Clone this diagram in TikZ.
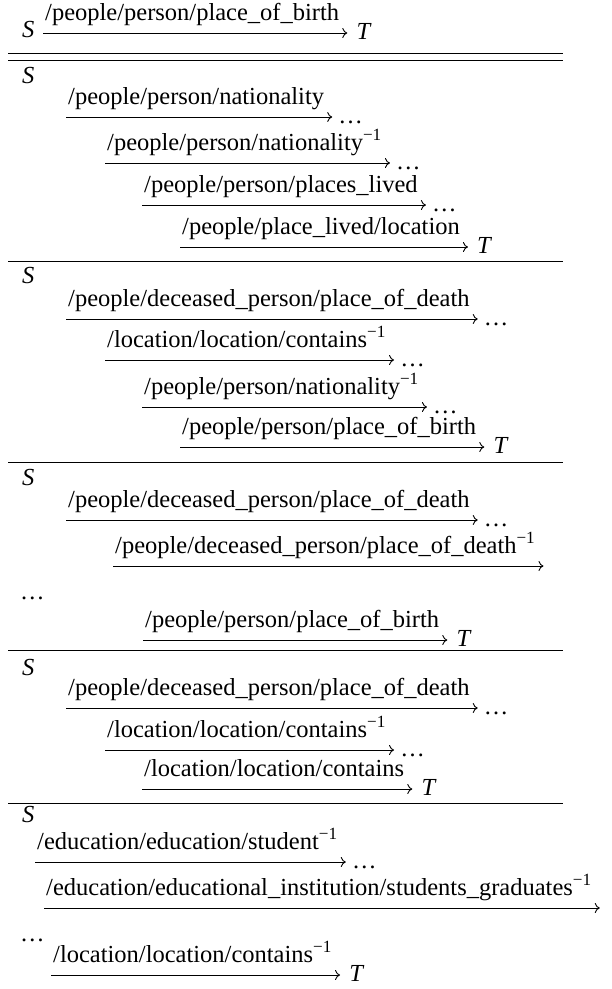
\documentclass[tikz,border=0pt]{standalone}
\usepackage{fontspec}
\setmainfont{Liberation Serif}
\usetikzlibrary{arrows.meta,positioning}

\newcommand{\invrel}{\textsuperscript{−1}}
% label above a relation arrow: name, arrow start x, arrow y, text
\newcommand{\relarrow}[4]{%
  \node[lbl] (#1) at (#2+2,#3-13) {#4};
  \coordinate (#1s) at ([xshift=-2pt,yshift=-13pt]#1.base west);
  \coordinate (#1e) at ([xshift=8pt,yshift=-13pt]#1.base east);
  \draw[rel] (#1s) -- (#1e);}

\tikzset{
  rel/.style={line width=0.9pt, -{Computer Modern Rightarrow[length=5pt,width=10pt]}},
  lbl/.style={anchor=base west, inner sep=0pt, font=\fontsize{24.5}{28}\selectfont},
  ent/.style={anchor=base west, inner sep=0pt, font=\fontsize{24.5}{28}\selectfont\itshape},
  rule/.style={line width=1pt},
}

\begin{document}
\begin{tikzpicture}[x=1pt,y=-1pt]
    \useasboundingbox (0,0) rectangle (612,989);

    % query relation
    \node[ent] (s0) at (22,37) {S};
    \relarrow{r0}{43}{33}{/people/person/place\_of\_birth}
    \node[ent] (t0) at ([xshift=9pt,yshift=-6pt]r0e) {T};

    % table rules
    \draw[rule] (8,53) -- (563,53);
    \foreach \y in {60,261,462,650,803}
        \draw[rule] (8,\y) -- (563,\y);

    % path 1
    \node[ent] (s1) at (22,83) {S};
    \relarrow{r11}{66}{117}{/people/person/nationality}
    \node[lbl] (d11) at ([xshift=6pt,yshift=-6pt]r11e) {…};
    \relarrow{r12}{105}{163}{/people/person/nationality\invrel}
    \node[lbl] (d12) at ([xshift=6pt,yshift=-6pt]r12e) {…};
    \relarrow{r13}{142}{205}{/people/person/places\_lived}
    \node[lbl] (d13) at ([xshift=6pt,yshift=-6pt]r13e) {…};
    \relarrow{r14}{180}{247}{/people/place\_lived/location}
    \node[ent] (t1) at ([xshift=9pt,yshift=-6pt]r14e) {T};

    % path 2
    \node[ent] (s2) at (22,283) {S};
    \relarrow{r21}{66}{319}{/people/deceased\_person/place\_of\_death}
    \node[lbl] (d21) at ([xshift=6pt,yshift=-6pt]r21e) {…};
    \relarrow{r22}{105}{360}{/location/location/contains\invrel}
    \node[lbl] (d22) at ([xshift=6pt,yshift=-6pt]r22e) {…};
    \relarrow{r23}{142}{407}{/people/person/nationality\invrel}
    \node[lbl] (d23) at ([xshift=6pt,yshift=-6pt]r23e) {…};
    \relarrow{r24}{180}{447}{/people/person/place\_of\_birth}
    \node[ent] (t2) at ([xshift=9pt,yshift=-6pt]r24e) {T};

    % path 3
    \node[ent] (s3) at (22,485) {S};
    \relarrow{r31}{66}{520}{/people/deceased\_person/place\_of\_death}
    \node[lbl] (d31) at ([xshift=6pt,yshift=-6pt]r31e) {…};
    \relarrow{r32}{113}{566}{/people/deceased\_person/place\_of\_death\invrel}
    \node[lbl] (d32) at (20,599) {…};
    \relarrow{r33}{143}{640}{/people/person/place\_of\_birth}
    \node[ent] (t3) at ([xshift=9pt,yshift=-6pt]r33e) {T};

    % path 4
    \node[ent] (s4) at (22,675) {S};
    \relarrow{r41}{66}{708}{/people/deceased\_person/place\_of\_death}
    \node[lbl] (d41) at ([xshift=6pt,yshift=-6pt]r41e) {…};
    \relarrow{r42}{105}{750}{/location/location/contains\invrel}
    \node[lbl] (d42) at ([xshift=6pt,yshift=-6pt]r42e) {…};
    \relarrow{r43}{142}{789}{/location/location/contains}
    \node[ent] (t4) at ([xshift=9pt,yshift=-6pt]r43e) {T};

    % path 5
    \node[ent] (s5) at (22,822) {S};
    \relarrow{r51}{35}{862}{/education/education/student\invrel}
    \node[lbl] (d51) at ([xshift=6pt,yshift=-6pt]r51e) {…};
    \relarrow{r52}{44}{908}{/education/educational\_institution/students\_graduates\invrel}
    \node[lbl] (d52) at (20,941) {…};
    \relarrow{r53}{51}{975}{/location/location/contains\invrel}
    \node[ent] (t5) at ([xshift=9pt,yshift=-6pt]r53e) {T};
\end{tikzpicture}
\end{document}
